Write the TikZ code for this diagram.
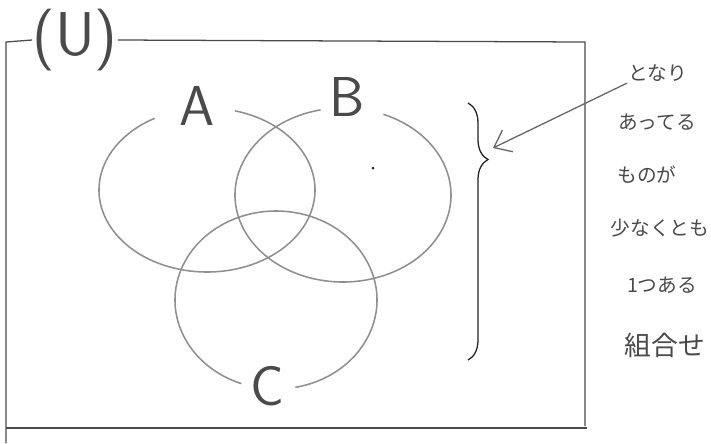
\documentclass[tikz,border=0pt]{standalone}
\usepackage{fontspec}
\usetikzlibrary{arrows.meta,decorations.pathreplacing}
\newfontfamily\jpfont{Noto Sans CJK JP}
\definecolor{Pencil}{HTML}{8F8F8F}
\definecolor{Lead}{HTML}{4A4A4A}
\definecolor{Ink}{HTML}{222222}

\begin{document}
\begin{tikzpicture}[x=0.025cm,y=-0.025cm,
  set/.style={draw=Pencil,line width=1.1pt},
  setname/.style={font=\sffamily\fontsize{40}{40}\selectfont,text=Lead,inner sep=1pt},
  note/.style={font=\jpfont\fontsize{14}{14}\selectfont,text=Lead,inner sep=1pt},
  frame/.style={draw=Lead,line width=0.9pt},
  brace/.style={draw=Ink,line width=0.9pt,decorate,decoration={brace,amplitude=0.5cm,aspect=0.22}},
  arrow/.style={-{Straight Barb[length=3.8mm,width=6mm]},draw=Pencil!70!black,line width=0.9pt}
]
\useasboundingbox (0,0) rectangle (711,443);
\coordinate (tl) at (6,42);
\coordinate (tr) at (585,42);
\coordinate (bl) at (6,443);
\coordinate (br) at (585,426);
\node[font=\sffamily\fontsize{44}{44}\selectfont,text=Lead,inner sep=0pt] (u) at (75,40) {(U)};
\draw[frame] (bl) -- (tl) -- (u.west);
\draw[frame] (u.east) -- (tr) -- (br);
\draw[frame] (6,428) -- (587,428);

\draw[set] (207,190) ++(-75:108 and 82) arc[start angle=-75,end angle=241,x radius=108,y radius=82];
\draw[set] (343,195) ++(-68:108 and 87) arc[start angle=-68,end angle=258,x radius=108,y radius=87];
\draw[set] (276,300) ++(110:101 and 89) arc[start angle=110,end angle=439,x radius=101,y radius=89];
\node[setname] (a) at (197,106) {A};
\node[setname] (b) at (347,97) {B};
\node[setname] (c) at (267,386) {C};
\fill[Ink] (373,168) circle[radius=1.5];

\draw[brace] (468,103) -- (468,360);
\coordinate (tip) at (493,148);

\node[note] (tonari) at (658,73) {となり};
\node[note] (atteru) at (657,122) {あってる};
\node[note] (monoga) at (647,175) {ものが};
\node[note] (sukunaku) at (660,228) {少なくとも};
\node[note] (hitotsu) at (662,285) {1つある};
\node[note,font=\jpfont\fontsize{19}{19}\selectfont] (kumiawase) at (665,345) {組合せ};
\draw[arrow] (tonari.south west) -- (tip);
\end{tikzpicture}
\end{document}
